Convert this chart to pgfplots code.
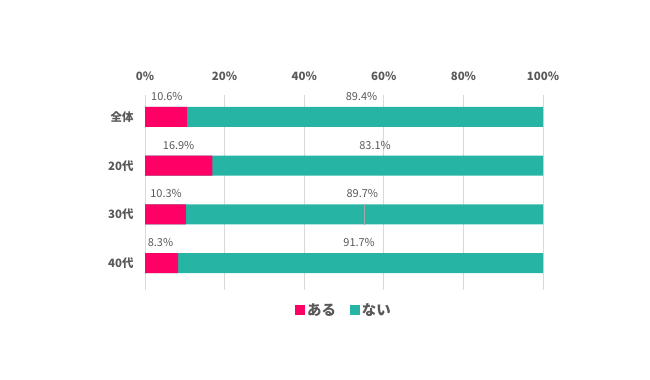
\documentclass[border=0pt]{standalone}
\usepackage{pgfplots}
\pgfplotsset{compat=1.18}
\usepackage{fontspec}
\setmainfont{Noto Sans CJK JP}
\definecolor{cpink}{HTML}{FF0066}
\definecolor{cteal}{HTML}{26B5A5}
\definecolor{ctext}{HTML}{595959}
\definecolor{cgrid}{HTML}{D9D9D9}
\begin{document}
\begin{tikzpicture}
\begin{axis}[
  scale only axis,
  width=398bp, height=195bp,
  xmin=0, xmax=100,
  ymin=-0.45, ymax=3.55,
  y dir=reverse,
  axis line style={draw=none},
  xtick={0,20,40,60,80,100},
  xticklabels={0\%,20\%,40\%,60\%,80\%,100\%},
  xticklabel pos=upper,
  xmajorgrids, grid style={cgrid, line width=0.8pt},
  major tick length=0pt,
  ytick={0,1,2,3},
  yticklabels={全体,20代,30代,40代},
  tick label style={font=\fontsize{11.5}{12}\selectfont\bfseries, text=ctext},
  xticklabel style={yshift=11bp},
  yticklabel style={xshift=-8bp},
  clip=false,
  legend style={at={(0.5,0)}, anchor=north, yshift=-9bp, draw=none,
    legend columns=2, font=\fontsize{14.5}{16}\selectfont\bfseries, text=ctext,
    /tikz/every even column/.append style={column sep=12bp}},
  legend image code/.code={\fill[#1] (0bp,-5bp) rectangle (10bp,5bp);},
]
\addlegendimage{fill=cpink, draw=none}
\addlegendentry{ある}
\addlegendimage{fill=cteal, draw=none}
\addlegendentry{ない}
\addplot[xbar, bar width=20bp, bar shift=0pt, fill=cteal, draw=none, forget plot]
  coordinates {(100,0) (100,1) (100,2) (100,3)};
\addplot[xbar, bar width=20bp, bar shift=0pt, fill=cpink, draw=none, forget plot]
  coordinates {(10.6,0) (16.9,1) (10.3,2) (8.3,3)};
\addplot[color=gray!70, line width=0.6pt, forget plot]
  coordinates {(55.2,1.79) (55.2,2.21)};
\addplot[draw=none, mark=none, forget plot,
  nodes near coords, point meta=explicit symbolic,
  every node near coord/.style={anchor=center, font=\fontsize{11}{12}\selectfont, text=ctext}]
  coordinates {
    (5.5,-0.42) [10.6\%]
    (54.4,-0.42) [89.4\%]
    (8.45,0.58) [16.9\%]
    (57.8,0.58) [83.1\%]
    (5.3,1.58) [10.3\%]
    (54.6,1.58) [89.7\%]
    (3.9,2.58) [8.3\%]
    (53.8,2.58) [91.7\%]
  };
\end{axis}
\path[use as bounding box] ([shift={(-145bp,-90bp)}]current axis.south west) rectangle ([shift={(505bp,290bp)}]current axis.south west);
\end{tikzpicture}
\end{document}
